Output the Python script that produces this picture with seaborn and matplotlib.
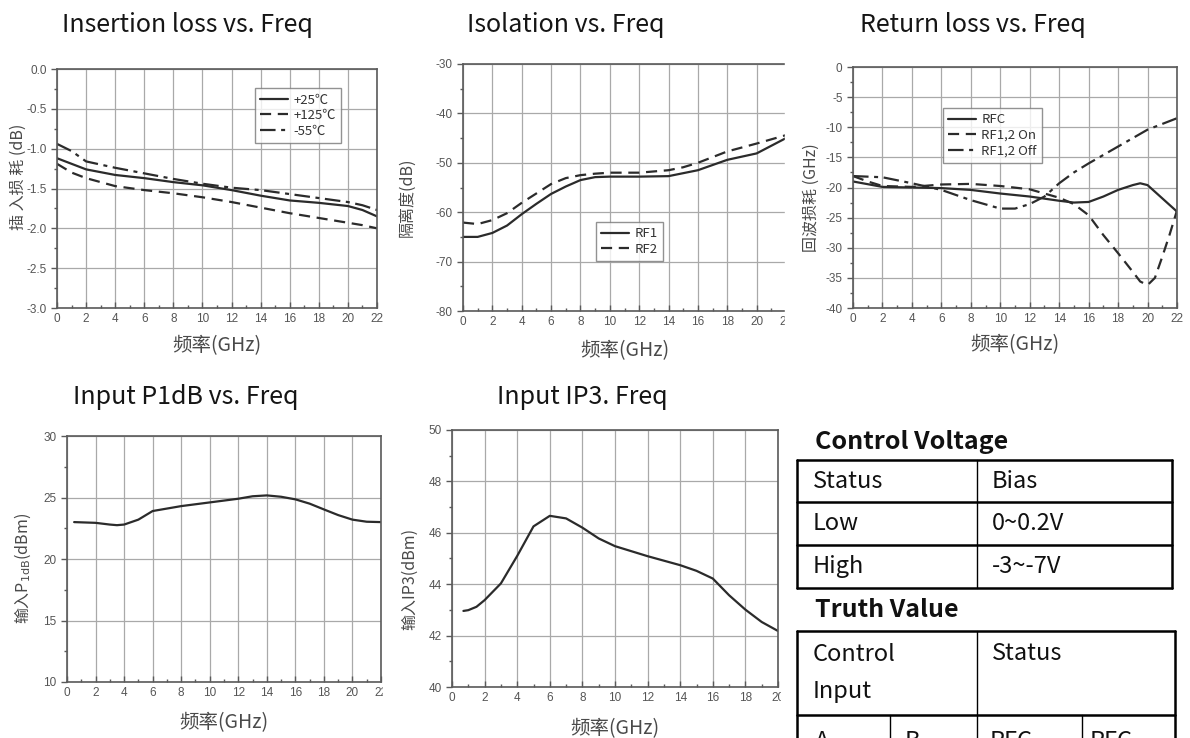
import matplotlib
matplotlib.use('Agg')
import matplotlib.pyplot as plt
import pandas as pd
import seaborn as sns
from matplotlib import ticker
from matplotlib.patches import Rectangle

W, H = 1190, 738
LINE = '#2b2b2b'
GRID = '#a9a9a9'
SPINE = '#5a5a5a'
TICK = '#555555'
LABEL = '#4a4a4a'

# ---- data ----
il_freq = [0, 1, 2, 4, 6, 8, 10, 12, 14, 16, 18, 20, 21, 22]
il_p25 = [-1.12, -1.19, -1.26, -1.33, -1.37, -1.42, -1.46, -1.52, -1.59, -1.65, -1.68, -1.72, -1.77, -1.85]
il_p125 = [-1.19, -1.30, -1.37, -1.47, -1.52, -1.56, -1.61, -1.67, -1.74, -1.81, -1.87, -1.93, -1.96, -2.00]
il_m55 = [-0.94, -1.03, -1.16, -1.24, -1.31, -1.38, -1.44, -1.49, -1.52, -1.57, -1.62, -1.67, -1.71, -1.77]

iso_freq = [0, 1, 2, 3, 4, 5, 6, 7, 8, 9, 10, 12, 14, 15, 16, 18, 20, 22]
iso_rf1 = [-65.0, -65.0, -64.2, -62.7, -60.4, -58.3, -56.3, -54.8, -53.5, -52.9, -52.8, -52.8, -52.7, -52.1, -51.5, -49.4, -48.1, -45.0]
iso_rf2 = [-62.1, -62.4, -61.6, -60.2, -58.1, -56.2, -54.3, -53.1, -52.5, -52.2, -52.0, -52.0, -51.5, -50.9, -50.0, -47.7, -46.1, -44.4]

rl_freq_rfc = [0, 2, 4, 6, 8, 10, 12, 14, 15, 16, 17, 18, 19, 19.5, 20, 21, 22]
rl_rfc = [-19.0, -19.9, -20.0, -20.1, -20.4, -21.0, -21.5, -22.2, -22.5, -22.4, -21.5, -20.4, -19.6, -19.3, -19.6, -21.8, -24.0]
rl_freq_on = [0, 1, 2, 4, 6, 8, 10, 12, 13, 14, 15, 16, 17, 18, 19, 19.5, 20, 20.5, 21, 21.5, 22]
rl_on = [-18.1, -19.0, -19.75, -19.9, -19.5, -19.4, -19.75, -20.3, -21.0, -21.7, -22.75, -24.6, -27.9, -30.9, -34.0, -35.6, -36.2, -35.0, -31.5, -27.8, -23.8]
rl_freq_off = [0, 2, 4, 6, 8, 10, 11, 12, 13, 14, 15, 16, 18, 20, 22]
rl_off = [-18.1, -18.3, -19.3, -20.4, -22.1, -23.5, -23.5, -22.75, -21.5, -19.3, -17.5, -16.0, -13.2, -10.4, -8.5]

p1_freq = [0.5, 2, 3, 3.5, 4, 5, 6, 7, 8, 10, 12, 13, 14, 15, 16, 17, 18, 19, 20, 21, 22]
p1_val = [23.0, 22.94, 22.8, 22.75, 22.8, 23.2, 23.9, 24.1, 24.3, 24.6, 24.9, 25.1, 25.17, 25.06, 24.85, 24.5, 24.03, 23.57, 23.2, 23.03, 23.0]

ip3_freq = [0.7, 1, 1.5, 2, 3, 4, 5, 6, 7, 8, 9, 10, 12, 14, 15, 16, 17, 18, 19, 20]
ip3_val = [42.96, 42.99, 43.12, 43.38, 44.03, 45.1, 46.25, 46.66, 46.56, 46.2, 45.78, 45.48, 45.09, 44.74, 44.52, 44.22, 43.57, 43.01, 42.53, 42.18]

titles = ['Insertion loss vs. Freq', 'Isolation vs. Freq', 'Return loss vs. Freq',
          'Input P1dB vs. Freq', 'Input IP3. Freq']

cv_title = 'Control Voltage'
cv_header = ['Status', 'Bias']
cv_rows = [['Low', '0~0.2V'], ['High', '-3~-7V']]
tv_title = 'Truth Value'
tv_header = ['Control\nInput', 'Status']
tv_sub = ['A', 'B', 'RFC', 'RFC']

sns.set_style('white')
plt.rcParams['font.family'] = ['Noto Sans CJK SC', 'DejaVu Sans']
plt.rcParams['axes.unicode_minus'] = False

fig = plt.figure(figsize=(W / 100, H / 100), dpi=100)


def px_axes(l, t, r, b):
    return fig.add_axes([l / W, 1 - b / H, (r - l) / W, (b - t) / H])


def style_axes(ax, xlim, xmajor, ylim, ymajor, ylabel, ylab_xy, xlab_y):
    ax.set_xlim(*xlim)
    ax.set_ylim(*ylim)
    ax.xaxis.set_major_locator(ticker.MultipleLocator(xmajor))
    ax.xaxis.set_minor_locator(ticker.MultipleLocator(xmajor / 2))
    ax.yaxis.set_major_locator(ticker.MultipleLocator(ymajor))
    ax.yaxis.set_minor_locator(ticker.MultipleLocator(ymajor / 2))
    ax.grid(True, which='major', color=GRID, lw=0.9)
    for s in ax.spines.values():
        s.set_color(SPINE)
        s.set_linewidth(1.2)
        s.set_visible(True)
    ax.tick_params(axis='both', which='both', color=SPINE, labelcolor=TICK,
                   labelsize=8.5, labelfontfamily='Liberation Sans', width=1)
    ax.tick_params(axis='y', which='both', direction='out', left=True)
    ax.tick_params(axis='x', which='both', direction='in', bottom=True)
    ax.tick_params(which='major', length=4)
    ax.tick_params(which='minor', length=2.5)
    ax.set_xlabel('频率(GHz)', fontsize=14, color=LABEL)
    ax.set_ylabel(ylabel, fontsize=11.5, color=LABEL)
    # label coords: x is the right edge of the rotated ylabel, y the top of the xlabel
    ax.yaxis.set_label_coords(*ylab_xy)
    ax.xaxis.set_label_coords(0.5, xlab_y)


def curve(ax, x, y, label=None, dashes=None):
    sns.lineplot(x=x, y=y, ax=ax, color=LINE, lw=1.6, label=label)
    if dashes:
        ax.lines[-1].set_dashes(dashes)


def legend(ax, anchor):
    ax.legend(loc='upper left', bbox_to_anchor=anchor, borderaxespad=0, frameon=True,
              fancybox=False, edgecolor='#777777', fontsize=9.5, handlelength=2.1,
              labelspacing=0.2, borderpad=0.4, handletextpad=0.4, labelcolor='#333333')


DASH = (5, 3)
DASHDOT = (7, 2.5, 1.8, 2.5)

# ---- insertion loss ----
ax1 = px_axes(57, 69, 377, 308)
curve(ax1, il_freq, il_p25, '+25℃')
curve(ax1, il_freq, il_p125, '+125℃', DASH)
curve(ax1, il_freq, il_m55, '-55℃', DASHDOT)
style_axes(ax1, (0, 22), 2, (-3.0, 0.0), 0.5, '插 入损 耗 (dB)', (-0.094, 0.55), -0.113)
ax1.yaxis.set_major_formatter(ticker.FormatStrFormatter('%.1f'))
legend(ax1, (0.619, 0.92))

# ---- isolation ----
ax2 = px_axes(463, 64, 786, 311)
curve(ax2, iso_freq, iso_rf1, 'RF1')
curve(ax2, iso_freq, iso_rf2, 'RF2', DASH)
style_axes(ax2, (0, 22), 2, (-80, -30), 10, '隔离度(dB)', (-0.146, 0.46), -0.117)
legend(ax2, (0.412, 0.36))

# ---- return loss ----
ax3 = px_axes(853, 67, 1177, 308)
curve(ax3, rl_freq_rfc, rl_rfc, 'RFC')
curve(ax3, rl_freq_on, rl_on, 'RF1,2 On', DASH)
curve(ax3, rl_freq_off, rl_off, 'RF1,2 Off', DASHDOT)
style_axes(ax3, (0, 22), 2, (-40, 0), 5, '回波损耗 (GHz)', (-0.102, 0.46), -0.108)
legend(ax3, (0.278, 0.83))

# ---- input P1dB ----
ax4 = px_axes(67, 436, 381, 682)
curve(ax4, p1_freq, p1_val)
style_axes(ax4, (0, 22), 2, (10, 30), 5, '输入P$_{\\mathrm{1dB}}$(dBm)', (-0.108, 0.46), -0.122)

# ---- input IP3 ----
ax5 = px_axes(452, 430, 778, 687)
curve(ax5, ip3_freq, ip3_val)
style_axes(ax5, (0, 20), 2, (40, 50), 2, '输入IP3(dBm)', (-0.104, 0.42), -0.12)

# panel titles
title_pos = [(62, 25), (467, 25), (860, 25), (73, 397), (497, 397)]
for (tx, ty), t in zip(title_pos, titles):
    fig.text(tx / W, 1 - ty / H, t, fontsize=18, ha='left', va='center', color='#151515')

# ---- overlay: crop edges of the original screenshot, and the tables ----
ov = fig.add_axes([0, 0, 1, 1], facecolor='none')
ov.set_zorder(20)
ov.set_xlim(0, W)
ov.set_ylim(H, 0)
ov.axis('off')

for (x0, y0, x1, y1) in [(785, 50, 800, 330), (383, 425, 398, 700), (781, 420, 796, 706)]:
    ov.add_patch(Rectangle((x0, y0), x1 - x0, y1 - y0, color='white', zorder=1))

TXT = dict(fontsize=17, color='#111111', va='center', ha='left')
ov.text(815, 442, cv_title, fontsize=18, fontweight='bold', color='#111111', va='center')
ov.text(815, 610, tv_title, fontsize=18, fontweight='bold', color='#111111', va='center')

# control voltage table
rows_y = [460, 502, 545, 588]
for y in rows_y:
    ov.plot([797, 1172], [y, y], color='black', lw=1.8, zorder=2)
ov.plot([797, 797], [460, 588], color='black', lw=1.8, zorder=2)
ov.plot([1172, 1172], [460, 588], color='black', lw=1.8, zorder=2)
ov.plot([977, 977], [460, 588], color='black', lw=1.0, zorder=2)
table_rows = [cv_header] + cv_rows
for i, row in enumerate(table_rows):
    yc = (rows_y[i] + rows_y[i + 1]) / 2
    ov.text(813, yc, row[0], **TXT)
    ov.text(992, yc, row[1], **TXT)

# truth value table (cut off at bottom edge, as in the source screenshot)
ov.plot([797, 1175], [631, 631], color='black', lw=1.8, zorder=2)
ov.plot([797, 1175], [715, 715], color='black', lw=1.8, zorder=2)
ov.plot([797, 797], [631, 740], color='black', lw=1.8, zorder=2)
ov.plot([1175, 1175], [631, 740], color='black', lw=1.8, zorder=2)
ov.plot([977, 977], [631, 740], color='black', lw=1.0, zorder=2)
ov.plot([890, 890], [715, 740], color='black', lw=1.0, zorder=2)
ov.plot([1082, 1082], [715, 740], color='black', lw=1.0, zorder=2)
ov.text(813, 673, tv_header[0], fontsize=17, color='#111111', va='center', ha='left', linespacing=1.75)
ov.text(992, 653, tv_header[1], **TXT)
for x, t in zip([815, 905, 990, 1090], tv_sub):
    ov.text(x, 741, t, **TXT)

fig.savefig('out.png', dpi=100)
